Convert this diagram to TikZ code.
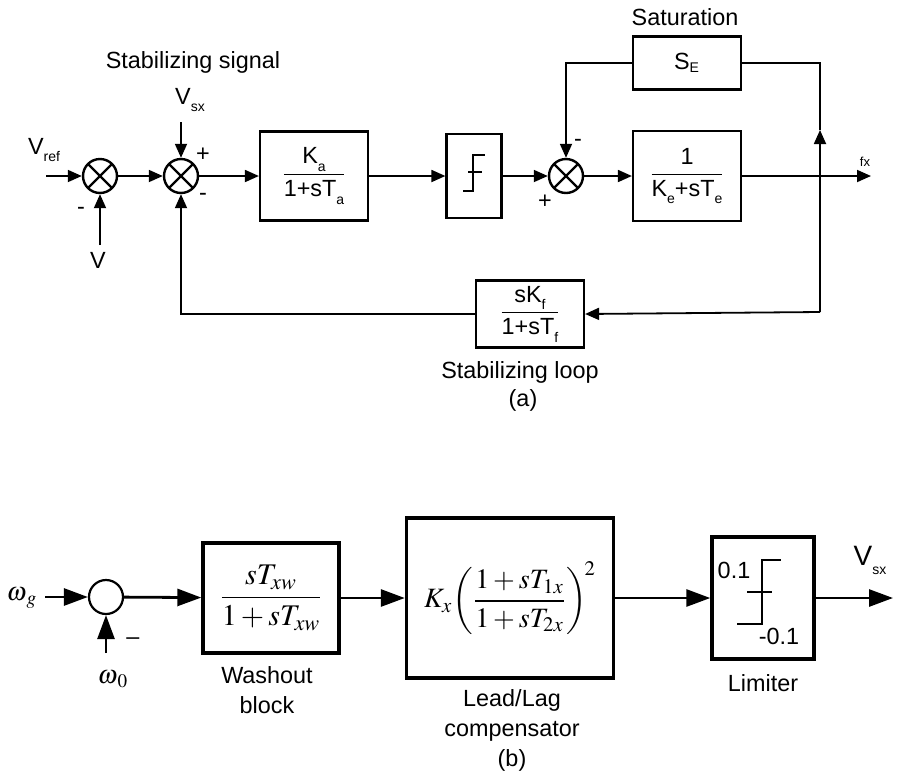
\documentclass[tikz,border=0pt]{standalone}
\usepackage{amsmath}
\usepackage{mathptmx}
\usepackage[no-math]{fontspec}
\setmainfont{Liberation Sans}
\usetikzlibrary{arrows.meta,positioning,calc}
\newcommand{\diagfont}{\fontsize{11.7}{15}\selectfont}
\newcommand{\lowsub}[1]{\raisebox{-0.6ex}{\scriptsize #1}}
\tikzset{
  blk/.style={
    draw,
    line width=1.1pt,
    inner sep=0pt,
    align=center,
    font=\diagfont
  },
  blkb/.style={blk,line width=1.7pt,font=\fontsize{14}{16}\selectfont},
  sumx/.style={
    circle,
    draw,
    line width=1.2pt,
    minimum size=17pt,
    inner sep=0pt,
    path picture={
      \draw[line width=1.2pt]
        (path picture bounding box.north west) -- (path picture bounding box.south east)
        (path picture bounding box.north east) -- (path picture bounding box.south west);
    }
  },
  sumo/.style={circle,draw,line width=1.1pt,minimum size=17pt,inner sep=0pt},
  sig/.style={-{Triangle[length=7pt,width=6pt]},line width=0.9pt},
  wire/.style={line width=0.9pt},
  bsig/.style={-{Triangle[length=12pt,width=8.5pt]},line width=1.4pt},
  txt/.style={font=\diagfont,align=center,inner sep=0pt},
  sgn/.style={font=\diagfont,inner sep=0pt},
}

\begin{document}
\begin{tikzpicture}[x=0.5pt,y=-0.5pt]
  \useasboundingbox (0,0) rectangle (900,772);

  % (a) exciter with stabilizing loop
  \node[sumx] (sumA) at (100,176) {};
  \node[sumx] (sumB) at (181,176) {};
  \node[blk,minimum width=54pt,minimum height=44.5pt] (ka) at (314,176)
    {$\dfrac{\text{K\lowsub{a}}}{\text{1+sT\lowsub{a}}}$};
  \node[blk,minimum width=27.5pt,minimum height=42pt] (lim) at (474,176) {};
  \node[sumx] (sumC) at (566,176) {};
  \node[blk,minimum width=54pt,minimum height=45pt] (ke) at (687,176)
    {$\dfrac{\text{1}}{\text{K\lowsub{e}+sT\lowsub{e}}}$};
  \node[blk,minimum width=54pt,minimum height=26.5pt] (se) at (687,63)
    {S\textsubscript{\scriptsize E}};
  \node[blk,minimum width=54pt,minimum height=33.5pt] (kf) at (530,314)
    {$\dfrac{\text{sK\lowsub{f}}}{\text{1+sT\lowsub{f}}}$};

  \coordinate (vrefin) at (46,176);
  \coordinate (vin) at (100,245);
  \coordinate (vsxin) at (181,122);
  \coordinate (fxout) at (871,176);
  \coordinate (tapR) at (820,312);
  \coordinate (tapUp) at (820,130);

  \draw[sig] (vrefin) -- (sumA);
  \draw[sig] (vin) -- (sumA);
  \draw[sig] (sumA) -- (sumB);
  \draw[sig] (vsxin) -- (sumB);
  \draw[sig] (sumB) -- (ka);
  \draw[sig] (ka) -- (lim);
  \draw[sig] (lim) -- (sumC);
  \draw[sig] (sumC) -- (ke);
  \draw[sig] (ke) -- (fxout);
  \draw[sig] (se.west) -| (sumC.north);
  \draw[sig] (tapR) -- (tapUp);
  \draw[wire] (tapUp) |- (se.east);
  \draw[sig] (tapR) -- (kf.east);
  \draw[sig] (kf.west) -| (sumB.south);

  % limiter symbol
  \begin{scope}[shift={(lim.center)},line width=0.9pt]
    \draw (-11,15) -- (-1,15) -- (-1,-21) -- (11,-21);
    \draw (-6,-4) -- (8,-4);
  \end{scope}

  \node[txt] (stabsig) at (193,62) {Stabilizing signal};
  \node[txt] (vsxlbl) at (190,100) {V\lowsub{sx}};
  \node[txt] (vreflbl) at (44,150) {V\lowsub{ref}};
  \node[txt] (vlbl) at (98,260) {V};
  \node[sgn] (pB) at (203,155) {+};
  \node[sgn] (mB) at (203,197) {-};
  \node[sgn] (mA) at (81,211) {-};
  \node[sgn] (pC) at (545,202) {+};
  \node[sgn] (mC) at (578,143) {-};
  \node[txt] (satlbl) at (685,17) {Saturation};
  \node[txt,font=\fontsize{6.5}{7}\selectfont] (fxlbl) at (865,162) {fx};
  \node[txt] (stabloop) at (520,372) {Stabilizing loop};
  \node[txt] (alabel) at (523,400) {(a)};

  % (b) power system stabilizer
  \node[sumo] (sumD) at (106,597) {};
  \node[blkb,minimum width=68pt,minimum height=55pt,font=\fontsize{15}{17}\selectfont] (wash) at (271,598)
    {$\dfrac{sT_{xw}}{1+sT_{xw}}$};
  \node[blkb,minimum width=103.5pt,minimum height=80pt] (lead) at (510,598)
    {$K_x\!\left(\dfrac{1+sT_{1x}}{1+sT_{2x}}\right)^{\!2}$};
  \node[blkb,minimum width=51pt,minimum height=61pt] (lim2) at (763,598) {};

  \coordinate (wgin) at (45,597);
  \coordinate (w0in) at (106,653);
  \coordinate (vsxout) at (893,598);

  \draw[bsig] (wgin) -- (sumD);
  \draw[bsig] (w0in) -- (sumD);
  \draw[bsig] (sumD) -- (wash);
  \draw[bsig] (wash) -- (lead);
  \draw[bsig] (lead) -- (lim2);
  \draw[bsig] (lim2) -- (vsxout);

  \begin{scope}[shift={(lim2.center)},line width=1.2pt]
    \draw (-26,26) -- (-1,26) -- (-1,-38) -- (18,-38);
    \draw (-16,-6) -- (9,-6);
  \end{scope}
  \node[txt] (hi) at (734,570) {0.1};
  \node[txt] (lo) at (779,636) {-0.1};

  \node[txt,font=\fontsize{13}{15}\selectfont] (wglbl) at (22,598) {$\omega_{\,g}$};
  \node[txt,font=\fontsize{13}{15}\selectfont] (w0lbl) at (113,679) {$\omega_{\,0}$};
  \node[sgn] (mD) at (133,641) {--};
  \node[txt] (washlbl) at (267,690) {Washout\\block};
  \node[txt] (leadlbl) at (512,730) {Lead/Lag\\compensator\\(b)};
  \node[txt] (limlbl) at (763,683) {Limiter};
  \node[txt,font=\fontsize{14}{16}\selectfont] (vsxlbl2) at (870,560) {V\lowsub{sx}};
\end{tikzpicture}
\end{document}
